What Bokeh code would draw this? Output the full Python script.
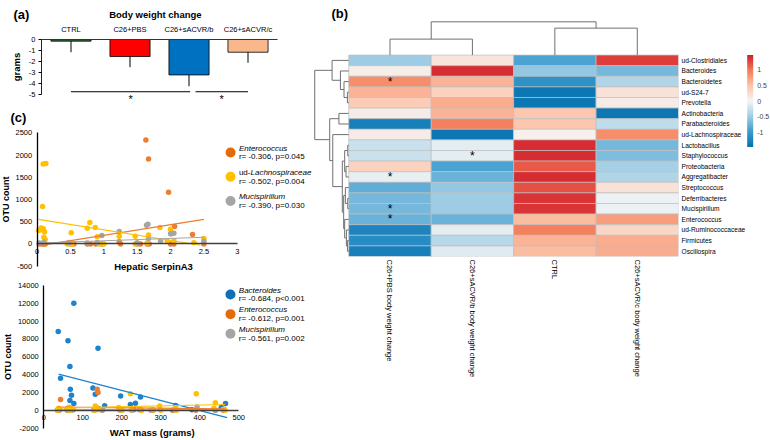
import numpy as np
from bokeh.plotting import figure
from bokeh.models import (Range1d, FixedTicker, CustomJSTickFormatter, Label,
                          LinearColorMapper, ColorBar, ColumnDataSource)
from bokeh.layouts import row, column
from bokeh.transform import transform
from bokeh.embed import file_html
from bokeh.resources import INLINE
from bokeh.core.properties import value

FONT = "Liberation Sans"

# ---------------- (a) body weight change ----------------
BW_GROUPS = ["CTRL", "C26+PBS", "C26+sACVR/b", "C26+sACVR/c"]
BW_MEAN = [-0.15, -1.54, -3.2, -1.15]
BW_ERR = [1.0, 0.96, 1.02, 0.95]
BW_COLORS = ["#2F6B35", "#FF0000", "#0070C0", "#F9B88C"]
BW_YTICKS = [0, -1, -2, -3, -4, -5]
SIG_FROM = ["CTRL", "C26+sACVR/b"]
SIG_TO = ["C26+sACVR/b", "C26+sACVR/c"]

# ---------------- (b) heatmap ----------------
TAXA = ["ud-Clostridiales", "Bacteroides", "Bacteroidetes", "ud-S24-7", "Prevotella",
        "Actinobacteria", "Parabacteroides", "ud-Lachnospiraceae", "Lactobacillus",
        "Staphylococcus", "Proteobacteria", "Aggregatibacter", "Streptococcus",
        "Deferribacteres", "Mucispirillum", "Enterococcus", "ud-Ruminococcaceae",
        "Firmicutes", "Oscillospira"]
HEAT_GROUPS = ["C26+PBS body weight change", "C26+sACVR/b body weight change", "CTRL",
               "C26+sACVR/c body weight change"]
PBS_VALS = [-0.5, 0.08, 0.85, 0.6, 0.4, 0.1, -1.3, 0.1, -0.25, -0.25, 0.35, -0.08, -0.8,
            -0.7, -0.7, -0.75, -1.25, -1.15, -1.3]
ACVRB_VALS = [0.15, 1.4, 0.6, 0.35, 0.65, 0.6, 0.95, -1.4, -0.1, -0.1, -0.9, -0.75, -0.55,
              -0.5, -0.5, -0.75, -0.1, -0.35, -0.12]
CTRL_VALS = [-0.9, -0.55, -1.1, -1.4, -1.4, 0.45, 0.45, 0.05, 1.4, 1.4, 1.15, 1.4, 1.2,
             1.35, 1.35, 0.55, 0.95, 0.6, 0.55]
ACVRC_VALS = [1.3, -0.7, -0.4, 0.2, 0.1, -1.4, -0.3, 0.85, -0.7, -0.65, -0.45, -0.4, 0.2,
              -0.05, -0.05, 0.75, 0.3, 0.65, 0.65]
STAR_TAXA = ["Bacteroidetes", "Staphylococcus", "Aggregatibacter", "Mucispirillum", "Enterococcus"]
STAR_GROUPS = [0, 1, 0, 0, 0]
CB_TICKS = [-1, -0.5, 0, 0.5, 1]
HEAT_LOW, HEAT_HIGH = -1.47, 1.47
# dendrograms: (merge height, left, right); leaves are row / column indices
ROW_TREE = (1.0,
            (0.49, 0, (0.245, 1, (0.14, 2, (0.04, 3, 4)))),
            (0.56,
             (0.29, 5, 6),
             (0.47, 7,
              (0.19,
               (0.12, (0.03, 8, 9), (0.08, 10, 11)),
               (0.15, (0.1, 12, (0.03, 13, 14)), (0.12, 15, (0.07, 16, (0.04, 17, 18))))))))
COL_TREE = (1.0, (0.48, 0, 1), (0.81, 2, 3))

# ---------------- (c) top: Hepatic SerpinA3 ----------------
SERP_ENT_X = [1.63, 1.67, 1.97, 2.06, 2.01, 2.33, 1.23, 0.03, 0.07, 0.1, 0.12, 0.5, 0.55, 0.75,
              0.8, 0.88, 0.97, 1.25, 1.5, 1.55, 1.65, 1.68, 2.0, 2.05, 2.5]
SERP_ENT_Y = [2340, 1910, 1160, 390, 230, 210, 50, 0, 0, 0, 0, 0, 0, 0, 0, 0, 0, 0, 0, 0, 0,
              0, 0, 0, 0]
SERP_LAC_X = [0.09, 0.13, 0.08, 0.02, 0.04, 0.06, 0.09, 0.11, 0.1, 0.12, 0.51, 0.75, 0.79,
              0.87, 0.9, 1.23, 1.47, 1.67, 1.84, 2.0, 2.05, 1.95, 2.35, 2.5, 1.65, 0.45, 0.52,
              0.93, 1.0, 1.47]
SERP_LAC_Y = [1800, 1810, 840, 300, 310, 360, 340, 270, 150, 100, 250, 350, 480, 370, 160,
              170, 170, 200, 370, 330, 70, 70, 25, 120, 20, 0, 0, 0, 0, 0]
SERP_MUC_X = [0.97, 1.23, 1.64, 1.66, 2.05, 2.0, 1.85, 2.5, 1.67, 0.03, 0.1, 0.48, 0.75, 0.9, 1.5]
SERP_MUC_Y = [190, 280, 420, 440, 240, 230, 70, 60, 120, 20, 40, 30, 20, 30, 25]
SERP_ENT_FIT_X, SERP_ENT_FIT_Y = [0.1, 2.5], [-20, 550]
SERP_LAC_FIT_X, SERP_LAC_FIT_Y = [0.02, 2.45], [550, -30]
SERP_MUC_FIT_X, SERP_MUC_FIT_Y = [0.05, 2.5], [20, 150]
SERP_XTICKS = [0, 0.5, 1, 1.5, 2, 2.5, 3]
SERP_YTICKS = [-500, 0, 500, 1000, 1500, 2000, 2500]
SERP_LEG_NAMES = ["Enterococcus", "ud-Lachnospiraceae", "Mucispirillum"]
SERP_LEG_STATS = ["r= -0.306, p=0.045", "r= -0.502, p=0.004", "r= -0.390, p=0.030"]

# ---------------- (c) bottom: WAT mass ----------------
WAT_BAC_X = [37, 77, 62, 139, 67, 43, 68, 71, 67, 126, 132, 197, 248, 222, 235, 156, 338, 466,
             77, 40, 60, 65, 70, 130, 140, 230, 380, 455]
WAT_BAC_Y = [8850, 12000, 7800, 6950, 4900, 3600, 2350, 1700, 1100, 2500, 1800, 1600, 1500,
             650, 800, 500, 550, 750, 750, 100, 150, 300, 50, 100, 200, 100, 50, 300]
WAT_ENT_X = [43, 137, 139, 35, 40, 60, 65, 70, 75, 130, 140, 150, 200, 230, 250, 280, 330, 390,
             440, 460]
WAT_ENT_Y = [1200, 2350, 2000, 0, 50, 0, 100, 0, 50, 0, 100, 0, 0, 50, 0, 0, 0, 0, 0, 0]
WAT_MUC_X = [35, 40, 62, 66, 70, 128, 135, 150, 195, 225, 245, 275, 335, 393, 440, 462]
WAT_MUC_Y = [50, 0, 30, 60, 0, 20, 80, 0, 40, 0, 60, 0, 30, 375, 0, 110]
WAT_LAC_X = [222, 391, 440, 38, 64, 132, 192, 297, 338, 436, 36, 60, 68, 72, 130, 135, 140,
             200, 225, 250, 280, 300, 340, 460, 465]
WAT_LAC_Y = [1850, 1850, 850, 225, 300, 490, 300, 490, 300, 225, 0, 100, 0, 200, 0, 300, 100,
             0, 100, 0, 50, 0, 0, 100, 0]
WAT_BAC_FIT_X, WAT_BAC_FIT_Y = [38, 470], [4050, -830]
WAT_ENT_FIT_X, WAT_ENT_FIT_Y = [35, 465], [350, 150]
WAT_MUC_FIT_X, WAT_MUC_FIT_Y = [35, 465], [60, 90]
WAT_LAC_FIT_X, WAT_LAC_FIT_Y = [35, 465], [250, 650]
WAT_XTICKS = [0, 100, 200, 300, 400, 500]
WAT_YTICKS = [-2000, 0, 2000, 4000, 6000, 8000, 10000, 12000, 14000]
WAT_LEG_NAMES = ["Bacteroides", "Enterococcus", "Mucispirillum"]
WAT_LEG_STATS = ["r= -0.684, p<0.001", "r= -0.612, p=0.001", "r= -0.561, p=0.002"]

# ---------------- styles ----------------
C_ORANGE = "#ED7D31"
C_YELLOW = "#FFC000"
C_GRAY = "#A5A5A5"
C_BLUE = "#1F82CC"
W_L, W_R = 312, 458
H_A, H_C1, H_C2 = 107, 165, 168
LEG_FONT = "8px"


def plain_fmt():
    return CustomJSTickFormatter(code="return String(tick)")


def base_fig(**kw):
    p = figure(output_backend="svg", toolbar_location=None, **kw)
    p.grid.visible = False
    p.outline_line_color = None
    p.background_fill_color = "white"
    p.border_fill_color = "white"
    return p


def full_fig(w, h, xr, yr, **kw):
    return base_fig(width=w, height=h, x_range=Range1d(*xr), y_range=Range1d(*yr),
                    min_border_left=0, min_border_right=0, min_border_top=0,
                    min_border_bottom=0, **kw)


def style_axis(ax, size="7.5px"):
    ax.major_label_text_font = FONT
    ax.major_label_text_font_size = size
    ax.major_label_text_color = "#000000"
    ax.axis_label_text_font = FONT
    ax.axis_label_text_font_style = "bold"
    ax.axis_label_text_color = "#000000"
    ax.minor_tick_line_color = None


def add_label(p, x, y, text, size=LEG_FONT, style="normal", align="left", xo=0, yo=0):
    p.add_layout(Label(x=x, y=y, text=text, text_font=FONT, text_font_size=size,
                       text_font_style=style, text_align=align, text_baseline="middle",
                       x_offset=xo, y_offset=yo, text_color="#000000"))


# ================= panel (a) =================
# frame covers the whole canvas; data x = category slot (centres at i + 0.5)
pa = full_fig(W_L, H_A, (-0.695, 4.593), (-6.143, 3.523), x_axis_location="above")
xc = [i + 0.5 for i in range(len(BW_GROUPS))]
pa.vbar(x=xc, top=0, bottom=BW_MEAN, width=0.68, fill_color=BW_COLORS,
        line_color="#000000", line_width=0.8)
lows = [m - e for m, e in zip(BW_MEAN, BW_ERR)]
pa.segment(x0=xc, y0=BW_MEAN, x1=xc, y1=lows, line_color="#000000", line_width=1)
ctr = {g: i + 0.5 for i, g in enumerate(BW_GROUPS)}
sx0 = [ctr[SIG_FROM[0]], ctr[SIG_FROM[1]] + 0.11]
sx1 = [ctr[SIG_TO[0]] + 0.02, ctr[SIG_TO[1]]]
pa.segment(x0=sx0, y0=[-4.72] * 2, x1=sx1, y1=[-4.72] * 2, line_color="#000000", line_width=1)
pa.text(x=[(a + b) / 2 for a, b in zip(sx0, sx1)], y=[-5.42] * 2, text=["*", "*"],
        text_font=value(FONT), text_font_size="11px", text_align="center",
        text_baseline="middle", text_color="#000000")
ya = pa.yaxis[0]
style_axis(ya)
ya.fixed_location = 0
ya.bounds = (-5, 0)
ya.ticker = FixedTicker(ticks=BW_YTICKS)
ya.formatter = plain_fmt()
ya.axis_label = "grams"
ya.axis_label_text_font_size = "9.5px"
ya.major_tick_in = 0
ya.major_tick_out = 3
ya.major_label_standoff = 3
ya.axis_label_standoff = 4
ya.axis_line_color = "#222222"
xa = pa.xaxis[0]
style_axis(xa)
xa.fixed_location = 0
xa.bounds = (0, len(BW_GROUPS))
xa.ticker = FixedTicker(ticks=xc)
xa.major_label_overrides = {x: g for x, g in zip(xc, BW_GROUPS)}
xa.major_tick_line_color = None
xa.major_tick_in = 0
xa.major_tick_out = 0
xa.major_label_standoff = 5
xa.axis_line_color = "#333333"
add_label(pa, 1.93, 2.26, "Body weight change", size="9.5px", style="bold", align="center")
add_label(pa, -0.475, 2.26, "(a)", size="13px", style="bold")


# ================= panel (c) helper =================
def scatter_panel(height, xr, yr, xticks, yticks, xbound, ybound):
    p = full_fig(W_L, height, xr, yr)
    xa = p.xaxis[0]
    style_axis(xa)
    xa.fixed_location = 0
    xa.bounds = xbound
    xa.ticker = FixedTicker(ticks=xticks)
    xa.formatter = plain_fmt()
    xa.major_tick_line_color = None
    xa.major_tick_in = 0
    xa.major_tick_out = 0
    xa.major_label_standoff = 5
    xa.axis_line_color = "#404040"
    xa.axis_line_width = 1.6
    ya = p.yaxis[0]
    style_axis(ya)
    ya.fixed_location = 0
    ya.bounds = ybound
    ya.ticker = FixedTicker(ticks=yticks)
    ya.formatter = plain_fmt()
    ya.major_tick_line_color = None
    ya.major_tick_in = 0
    ya.major_tick_out = 0
    ya.major_label_standoff = 5
    ya.axis_label = "OTU count"
    ya.axis_label_text_font_size = "9px"
    ya.axis_label_standoff = 2
    ya.axis_line_color = "#000000"
    ya.axis_line_width = 1.3
    return p


# ================= panel (c) top =================
p1 = scatter_panel(H_C1, (-0.5505, 4.129), (-643.5, 3069), SERP_XTICKS, SERP_YTICKS,
                   (0, 3), (-500, 2500))
p1.scatter(SERP_ENT_X, SERP_ENT_Y, size=5.5, color=C_ORANGE, line_color=None)
p1.scatter(SERP_LAC_X, SERP_LAC_Y, size=5.5, color=C_YELLOW, line_color=None)
p1.scatter(SERP_MUC_X, SERP_MUC_Y, size=5.5, color=C_GRAY, line_color=None)
p1.line(SERP_ENT_FIT_X, SERP_ENT_FIT_Y, line_color=C_ORANGE, line_width=1.2)
p1.line(SERP_LAC_FIT_X, SERP_LAC_FIT_Y, line_color=C_YELLOW, line_width=1.2)
p1.line(SERP_MUC_FIT_X, SERP_MUC_FIT_Y, line_color=C_GRAY, line_width=1.2)
leg_y1 = [2056 - 545 * i for i in range(3)]
p1.scatter([2.9] * 3, leg_y1, size=10, color=["#E36C0A", C_YELLOW, C_GRAY], line_color=None)
add_label(p1, 3.025, leg_y1[0], SERP_LEG_NAMES[0], style="italic", yo=4.2)
add_label(p1, 3.025, leg_y1[1], SERP_LEG_NAMES[1][:3], yo=4.2)
add_label(p1, 3.025, leg_y1[1], SERP_LEG_NAMES[1][3:], style="italic", xo=11.6, yo=4.2)
add_label(p1, 3.025, leg_y1[2], SERP_LEG_NAMES[2], style="italic", yo=4.2)
for yv, s in zip(leg_y1, SERP_LEG_STATS):
    add_label(p1, 3.025, yv, s, yo=-4.4)
add_label(p1, 1.745, -510, "Hepatic SerpinA3", size="9.5px", style="bold", align="center")
add_label(p1, -0.4, 2855, "(c)", size="13px", style="bold")

# ================= panel (c) bottom =================
p2 = scatter_panel(H_C2, (-111, 689), (-3389, 15461), WAT_XTICKS, WAT_YTICKS,
                   (0, 500), (-2000, 14000))
p2.scatter(WAT_BAC_X, WAT_BAC_Y, size=5.5, color=C_BLUE, line_color=None)
p2.scatter(WAT_ENT_X, WAT_ENT_Y, size=5.5, color=C_ORANGE, line_color=None)
p2.scatter(WAT_MUC_X, WAT_MUC_Y, size=5.5, color=C_GRAY, line_color=None)
p2.scatter(WAT_LAC_X, WAT_LAC_Y, size=5.5, color=C_YELLOW, line_color=None)
p2.line(WAT_BAC_FIT_X, WAT_BAC_FIT_Y, line_color=C_BLUE, line_width=1.2)
p2.line(WAT_ENT_FIT_X, WAT_ENT_FIT_Y, line_color=C_ORANGE, line_width=1.2)
p2.line(WAT_MUC_FIT_X, WAT_MUC_FIT_Y, line_color=C_GRAY, line_width=1.2)
p2.line(WAT_LAC_FIT_X, WAT_LAC_FIT_Y, line_color=C_YELLOW, line_width=1.2)
leg_y2 = [12993 - 2205 * i for i in range(3)]
p2.scatter([478.7] * 3, leg_y2, size=10, color=["#0F6FB6", "#E36C0A", C_GRAY], line_color=None)
for yv, n, s in zip(leg_y2, WAT_LEG_NAMES, WAT_LEG_STATS):
    add_label(p2, 500, yv, n, style="italic", yo=4.2)
    add_label(p2, 500, yv, s, yo=-4.4)
add_label(p2, 278, -2457, "WAT mass (grams)", size="9.5px", style="bold", align="center")

# ================= panel (b) heatmap =================
N = len(TAXA)
ROW_DENDRO_W = 0.413
COL_DENDRO_H = 3.14


def interp_palette(anchors, n=256):
    vals = np.array([a[0] for a in anchors])
    cols = np.array([[int(c[1 + k:3 + k], 16) for k in (0, 2, 4)] for _, c in anchors], float)
    t = np.linspace(vals[0], vals[-1], n)
    rgb = np.stack([np.interp(t, vals, cols[:, k]) for k in range(3)], axis=1)
    return ["#%02x%02x%02x" % tuple(int(round(c)) for c in r) for r in rgb]


PALETTE = interp_palette([(0, "#0571B0"), (1, "#3C9BCF"), (2, "#9FCDE4"), (3, "#F5F5F5"),
                          (4, "#FCC4A9"), (5, "#F47C58"), (6, "#D11F2C")])
mapper = LinearColorMapper(palette=PALETTE, low=HEAT_LOW, high=HEAT_HIGH)

pb = base_fig(width=W_R, height=440, x_range=Range1d(-0.44, 4.0), y_range=Range1d(0, 24.15),
              y_axis_location="right", min_border_left=0, min_border_right=92,
              min_border_top=0, min_border_bottom=184)
hx, hy, hv = [], [], []
for j, colv in enumerate([PBS_VALS, ACVRB_VALS, CTRL_VALS, ACVRC_VALS]):
    for i, v in enumerate(colv):
        hx.append(j + 0.5)
        hy.append(N - i - 0.5)
        hv.append(v)
src = ColumnDataSource(dict(x=hx, y=hy, v=hv))
pb.rect(x="x", y="y", width=1, height=1, source=src, fill_color=transform("v", mapper),
        line_color="#BEBEBE", line_width=0.7)
pb.text(x=[g + 0.5 for g in STAR_GROUPS], y=[N - TAXA.index(t) - 0.5 for t in STAR_TAXA],
        text=["*"] * len(STAR_TAXA), text_font=value(FONT), text_font_size="12px",
        text_align="center", text_baseline="middle", text_color="#000000")


def dendro(tree, segs):
    if isinstance(tree, int):
        return float(tree), 0.0
    h, l, r = tree
    pl, hl = dendro(l, segs)
    pr, hr = dendro(r, segs)
    segs += [(pl, hl, pl, h), (pr, hr, pr, h), (pl, h, pr, h)]
    return (pl + pr) / 2, h


rs = []
dendro(ROW_TREE, rs)
pb.segment(x0=[-s[1] * ROW_DENDRO_W for s in rs], y0=[N - s[0] - 0.5 for s in rs],
           x1=[-s[3] * ROW_DENDRO_W for s in rs], y1=[N - s[2] - 0.5 for s in rs],
           line_color="#707070", line_width=1)
cs = []
dendro(COL_TREE, cs)
pb.segment(x0=[s[0] + 0.5 for s in cs], y0=[N + s[1] * COL_DENDRO_H for s in cs],
           x1=[s[2] + 0.5 for s in cs], y1=[N + s[3] * COL_DENDRO_H for s in cs],
           line_color="#707070", line_width=1)

xb = pb.xaxis[0]
style_axis(xb, "7.5px")
xb.ticker = FixedTicker(ticks=[j + 0.5 for j in range(4)])
xb.major_label_overrides = {j + 0.5: g for j, g in enumerate(HEAT_GROUPS)}
xb.major_label_orientation = -np.pi / 2
xb.axis_line_color = None
xb.major_tick_line_color = None
xb.major_tick_in = 0
xb.major_tick_out = 0
xb.major_label_standoff = 3
yb = pb.yaxis[0]
style_axis(yb, "6.6px")
yb.ticker = FixedTicker(ticks=[N - i - 0.5 for i in range(N)])
yb.major_label_overrides = {N - i - 0.5: t for i, t in enumerate(TAXA)}
yb.axis_line_color = None
yb.major_tick_line_color = None
yb.major_tick_in = 0
yb.major_tick_out = 0
yb.major_label_standoff = 3

cb = ColorBar(color_mapper=mapper, location=(434.7, 109.5), width=6, height=92, padding=0,
              ticker=FixedTicker(ticks=CB_TICKS), formatter=plain_fmt(),
              major_label_text_font=FONT, major_label_text_font_size="7px",
              major_tick_line_color=None, label_standoff=4, bar_line_color=None,
              background_fill_alpha=0, border_line_color=None)
pb.add_layout(cb, "center")
add_label(pb, -0.21, 22.94, "(b)", size="13px", style="bold")

layout = row(column(pa, p1, p2), pb)
open("out.html", "w").write(file_html(layout, INLINE))
